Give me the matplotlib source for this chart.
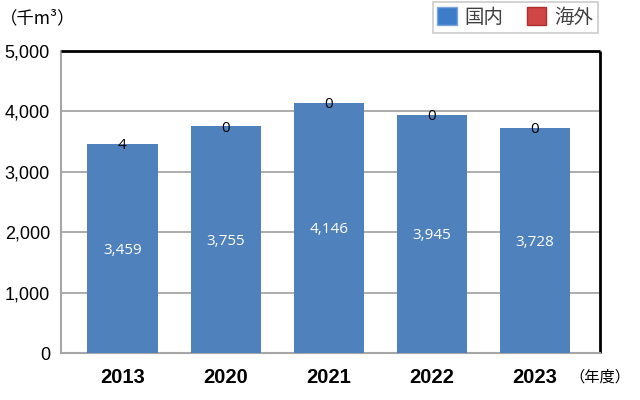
import matplotlib
matplotlib.use("Agg")
import matplotlib.pyplot as plt
from matplotlib.patches import Patch

plt.rcParams['font.family'] = ['Liberation Sans', 'Noto Sans CJK JP', 'DejaVu Sans']

years = ["2013", "2020", "2021", "2022", "2023"]
domestic = [3459, 3755, 4146, 3945, 3728]
overseas = [4, 0, 0, 0, 0]
yticks = [0, 1000, 2000, 3000, 4000, 5000]

blue = "#4F81BD"
red = "#C0504D"

fig = plt.figure(figsize=(6.4, 4.0), dpi=100)
ax = fig.add_axes([61/640, 1-353/400, (600-61)/640, (353-51)/400])

x = list(range(len(years)))
ax.bar(x, domestic, width=0.68, color=blue, zorder=3)
ax.bar(x, overseas, bottom=domestic, width=0.68, color=red, zorder=3)

for xi, d, o in zip(x, domestic, overseas):
    ax.text(xi, d/2, f"{d:,}", ha='center', va='center_baseline', color='white',
            fontsize=11, family=['Open Sans', 'DejaVu Sans'], zorder=4)
    ax.text(xi, d + o/2, f"{o}", ha='center', va='center_baseline', color='black',
            fontsize=11, family=['Open Sans', 'DejaVu Sans'], zorder=4)

ax.set_xlim(-0.596, 4.63)
ax.set_ylim(0, 5000)
ax.set_yticks(yticks)
ax.set_yticklabels([f"{v:,}" for v in yticks], fontsize=13)
ax.set_xticks(x)
ax.set_xticklabels(years, fontsize=14.5, fontweight='bold')
ax.tick_params(axis='both', length=0, pad=8)
ax.tick_params(axis='x', pad=11)
ax.yaxis.grid(True, color='#A6A6A6', linewidth=1.3, zorder=0)
ax.set_axisbelow(True)

for side in ['top', 'right']:
    ax.spines[side].set_color('black')
    ax.spines[side].set_linewidth(2)
    ax.spines[side].set_capstyle('butt')
for side in ['left', 'bottom']:
    ax.spines[side].set_color('#A6A6A6')
    ax.spines[side].set_linewidth(1.5)

fig.text(0/640, 1-18/400, "（千m³）", ha='left', va='center', fontsize=12.5,
         family=['Noto Sans CJK JP', 'DejaVu Sans'])
fig.text(630/640, 1-377/400, "（年度）", ha='right', va='center', fontsize=11,
         family=['Noto Sans CJK JP', 'DejaVu Sans'])

handles = [Patch(facecolor="#3D7CC9", edgecolor="#7FA7DA"), Patch(facecolor="#D04545", edgecolor="#B03030")]
leg = fig.legend(handles, ["国内", "海外"], loc='upper right', bbox_to_anchor=(600/640, 1.0),
                 ncol=2, frameon=True, fancybox=False, edgecolor='#BFBFBF',
                 prop={'family': ['Noto Sans CJK JP'], 'size': 14},
                 handlelength=1.0, handleheight=1.0, columnspacing=1.2, handletextpad=0.4,
                 borderpad=0.25, borderaxespad=0.1, labelcolor='#404040')
leg.get_frame().set_linewidth(1.2)

fig.savefig("out.png", dpi=100)
